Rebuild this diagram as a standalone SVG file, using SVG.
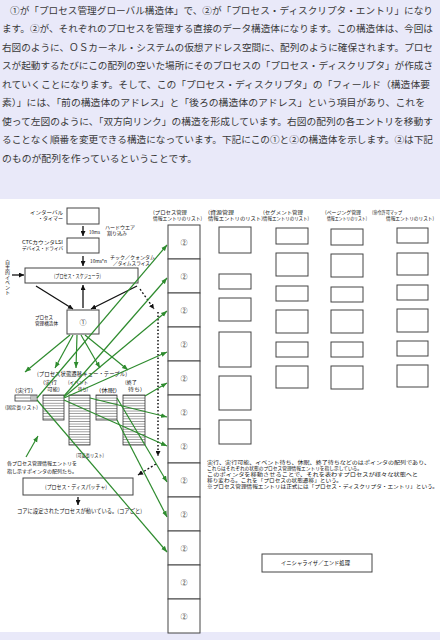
<svg xmlns="http://www.w3.org/2000/svg" width="440" height="640" viewBox="0 0 440 640">
<style>
.p{font-family:"Noto Sans CJK JP","Noto Sans",sans-serif;font-size:9.6px;fill:#383838}
.s{font-family:"Noto Sans CJK JP","Noto Sans",sans-serif;font-size:5.5px;fill:#111}
.t{font-family:"Noto Sans CJK JP","Noto Sans",sans-serif;font-size:5px;fill:#111}
.v{font-family:"Noto Sans CJK JP","Noto Sans",sans-serif;font-size:5px;fill:#111;writing-mode:vertical-rl;text-orientation:upright}
.c{font-family:"Noto Sans CJK JP","Noto Sans",sans-serif;font-size:7px;fill:#222;text-anchor:middle}
.b{fill:#fff;stroke:#444;stroke-width:1}
.q{fill:url(#stripe);stroke:#333;stroke-width:0.8}
.g{stroke:#2e8b2e;stroke-width:1.2;fill:none;marker-end:url(#ag)}
.k{stroke:#111;stroke-width:1.3;fill:none;marker-end:url(#ak)}
.d{stroke:#111;stroke-width:1.3;fill:none;stroke-dasharray:2 2;marker-end:url(#ak)}
</style>
<defs>
<marker id="ag" viewBox="0 0 10 10" refX="10" refY="5" markerWidth="6" markerHeight="6" markerUnits="userSpaceOnUse" orient="auto"><path d="M0,1 L10,5 L0,9 z" fill="#2e8b2e"/></marker>
<marker id="ak" viewBox="0 0 10 10" refX="10" refY="5" markerWidth="5" markerHeight="5" markerUnits="userSpaceOnUse" orient="auto"><path d="M0,0 L10,5 L0,10 z" fill="#111"/></marker>
<pattern id="stripe" patternUnits="userSpaceOnUse" x="0" y="395" width="4" height="2.6"><rect width="4" height="2.6" fill="#fff"/><line x1="0" y1="0.3" x2="4" y2="0.3" stroke="#333" stroke-width="0.6"/></pattern>
</defs>
<rect x="0" y="0" width="440" height="640" fill="#e9e9f9"/>
<rect x="0" y="199" width="440" height="433" fill="#fff"/>

<g id="intro">
<text class="p" x="10" y="13.5" textLength="423" lengthAdjust="spacingAndGlyphs">①が「プロセス管理グローバル構造体」で、②が「プロセス・ディスクリプタ・エントリ」になり</text>
<text class="p" x="2" y="32" textLength="431" lengthAdjust="spacingAndGlyphs">ます。②が、それぞれのプロセスを管理する直接のデータ構造体になります。この構造体は、今回は</text>
<text class="p" x="2" y="50.5" textLength="431" lengthAdjust="spacingAndGlyphs">右図のように、ＯＳカーネル・システムの仮想アドレス空間に、配列のように確保されます。プロセ</text>
<text class="p" x="2" y="69" textLength="431" lengthAdjust="spacingAndGlyphs">スが起動するたびにこの配列の空いた場所にそのプロセスの「プロセス・ディスクリプタ」が作成さ</text>
<text class="p" x="2" y="87.5" textLength="428" lengthAdjust="spacingAndGlyphs">れていくことになります。そして、この「プロセス・ディスクリプタ」の「フィールド（構造体要</text>
<text class="p" x="2" y="106" textLength="423" lengthAdjust="spacingAndGlyphs">素）」には、「前の構造体のアドレス」と「後ろの構造体のアドレス」という項目があり、これを</text>
<text class="p" x="2" y="124.5" textLength="431" lengthAdjust="spacingAndGlyphs">使って左図のように、「双方向リンク」の構造を形成しています。右図の配列の各エントリを移動す</text>
<text class="p" x="2" y="143" textLength="431" lengthAdjust="spacingAndGlyphs">ることなく順番を変更できる構造になっています。下記にこの①と②の構造体を示します。②は下記</text>
<text class="p" x="2" y="161.5" textLength="195" lengthAdjust="spacingAndGlyphs">のものが配列を作っているということです。</text>
</g>

<g id="timer">
<rect class="b" x="67" y="208" width="32" height="16"/>
<text class="t" x="30" y="213.5" textLength="33" lengthAdjust="spacingAndGlyphs">インターバル</text>
<text class="t" x="38" y="220" textLength="25" lengthAdjust="spacingAndGlyphs">・タイマー</text>
<text class="t" x="89" y="234" textLength="11" lengthAdjust="spacingAndGlyphs">10ms</text>
<text class="t" x="105" y="228.5" textLength="30" lengthAdjust="spacingAndGlyphs">ハードウエア</text>
<text class="t" x="107" y="235" textLength="20" lengthAdjust="spacingAndGlyphs">割り込み</text>
</g>
<g id="ctc">
<rect class="b" x="67" y="238" width="32" height="15"/>
<text class="t" x="22" y="243.5" textLength="41" lengthAdjust="spacingAndGlyphs">CTCカウンタLSI</text>
<text class="t" x="22" y="250" textLength="41" lengthAdjust="spacingAndGlyphs">デバイス・ドライバ</text>
<text class="t" x="90" y="263" textLength="17" lengthAdjust="spacingAndGlyphs">10ms*n</text>
<text class="t" x="110" y="258.5" textLength="45" lengthAdjust="spacingAndGlyphs">チック／クォンタム</text>
<text class="t" x="113" y="265" textLength="37" lengthAdjust="spacingAndGlyphs">／タイムスライス</text>
</g>
<g id="event">
<text class="v" x="7.5" y="260">自主的イベント</text>
</g>
<g id="scheduler">
<rect class="b" x="25" y="268" width="113" height="15"/>
<text class="s" x="54" y="278" textLength="47" lengthAdjust="spacingAndGlyphs">(プロセス・スケジューラ)</text>
</g>
<g id="pm">
<rect class="b" x="67" y="310" width="32" height="24"/>
<text class="c" x="83" y="324.5">①</text>
<text class="t" x="35" y="318.5" textLength="18" lengthAdjust="spacingAndGlyphs">プロセス</text>
<text class="t" x="35" y="325" textLength="23" lengthAdjust="spacingAndGlyphs">管理構造体</text>
</g>
<g id="queues">
<text class="s" x="37" y="376" textLength="90" lengthAdjust="spacingAndGlyphs">(プロセス状態遷移キュー・テーブル)</text>
<text class="t" x="15" y="392" textLength="18" lengthAdjust="spacingAndGlyphs">(実行)</text>
<rect x="15" y="395" width="22" height="6" fill="#fff" stroke="#333" stroke-width="0.8"/>
<line x1="15" y1="398" x2="31" y2="398" stroke="#333" stroke-width="0.5"/>
<path d="M31,395V401M33,395V401M35,395V401" stroke="#333" stroke-width="0.6"/>
<text class="t" x="5" y="408.5" textLength="33" lengthAdjust="spacingAndGlyphs">(固定長リスト)</text>
<text class="t" x="43" y="384" textLength="14" lengthAdjust="spacingAndGlyphs">(実行</text>
<text class="t" x="47" y="390.5" textLength="13" lengthAdjust="spacingAndGlyphs">可能)</text>
<rect class="q" x="43" y="395" width="21" height="25"/>
<text class="t" x="68" y="384" textLength="20" lengthAdjust="spacingAndGlyphs">(イベント</text>
<text class="t" x="78" y="390.5" textLength="10" lengthAdjust="spacingAndGlyphs">待ち)</text>
<rect class="q" x="69" y="395" width="21" height="50"/>
<text class="t" x="99" y="392" textLength="18" lengthAdjust="spacingAndGlyphs">(休眠)</text>
<rect class="q" x="96" y="395" width="21" height="25"/>
<text class="t" x="125" y="384" textLength="12" lengthAdjust="spacingAndGlyphs">(終了</text>
<text class="t" x="128" y="390.5" textLength="14" lengthAdjust="spacingAndGlyphs">待ち)</text>
<rect class="q" x="123" y="395" width="22" height="50"/>
<text class="t" x="76" y="457" textLength="28" lengthAdjust="spacingAndGlyphs">(可変長リスト)</text>
<text class="t" x="7" y="465" textLength="70" lengthAdjust="spacingAndGlyphs">各プロセス管理情報エントリを</text>
<text class="t" x="7" y="473" textLength="70" lengthAdjust="spacingAndGlyphs">指し示すポインタの配列たち。</text>
</g>
<g id="dispatcher">
<rect class="b" x="23" y="478" width="110" height="17"/>
<text class="s" x="45" y="488.5" textLength="62" lengthAdjust="spacingAndGlyphs">(プロセス・ディスパッチャ)</text>
<text class="s" x="17" y="513" textLength="125" lengthAdjust="spacingAndGlyphs">コアに設定されたプロセスが動いている。(コアごと)</text>
</g>

<g id="pd-list">
<text class="t" x="153" y="213.5" textLength="34" lengthAdjust="spacingAndGlyphs">(プロセス管理</text>
<text class="t" x="153" y="220" textLength="49" lengthAdjust="spacingAndGlyphs">情報エントリのリスト)</text>
<rect class="b" x="168" y="225" width="32" height="34"/><text class="c" x="184" y="244.5">②</text>
<rect class="b" x="168" y="259" width="32" height="34"/><text class="c" x="184" y="278.5">②</text>
<rect class="b" x="168" y="293" width="32" height="34"/><text class="c" x="184" y="312.5">②</text>
<rect class="b" x="168" y="327" width="32" height="34"/><text class="c" x="184" y="346.5">②</text>
<rect class="b" x="168" y="361" width="32" height="34"/><text class="c" x="184" y="380.5">②</text>
<rect class="b" x="168" y="395" width="32" height="34"/><text class="c" x="184" y="414.5">②</text>
<rect class="b" x="168" y="429" width="32" height="34"/><text class="c" x="184" y="448.5">②</text>
<rect class="b" x="168" y="463" width="32" height="34"/><text class="c" x="184" y="482.5">②</text>
<rect class="b" x="168" y="497" width="32" height="34"/><text class="c" x="184" y="516.5">②</text>
<rect class="b" x="168" y="531" width="32" height="34"/><text class="c" x="184" y="550.5">②</text>
<rect class="b" x="168" y="565" width="32" height="34"/><text class="c" x="184" y="584.5">②</text>
<rect class="b" x="168" y="599" width="32" height="34"/><text class="c" x="184" y="618.5">②</text>
</g>
<g id="resource-list">
<text class="t" x="208" y="213.5" textLength="26" lengthAdjust="spacingAndGlyphs">(資源管理</text>
<text class="t" x="208" y="220" textLength="55" lengthAdjust="spacingAndGlyphs">情報エントリのリスト)</text>
<rect class="b" x="219" y="227" width="32" height="26"/>
<rect class="b" x="219" y="274" width="32" height="15"/>
<rect class="b" x="219" y="298" width="32" height="23"/>
<rect class="b" x="219" y="332" width="32" height="35"/>
<rect class="b" x="219" y="376" width="32" height="34"/>
<rect class="b" x="219" y="420" width="32" height="24"/>
</g>
<g id="segment-list">
<text class="t" x="263" y="213.5" textLength="40" lengthAdjust="spacingAndGlyphs">(セグメント管理</text>
<text class="t" x="263" y="220" textLength="46" lengthAdjust="spacingAndGlyphs">情報エントリのリスト)</text>
<rect class="b" x="276" y="228" width="32" height="16"/>
<rect class="b" x="276" y="253" width="32" height="23"/>
<rect class="b" x="276" y="286" width="32" height="15"/>
<rect class="b" x="276" y="310" width="32" height="23"/>
<rect class="b" x="276" y="342" width="32" height="15"/>
<rect class="b" x="276" y="366" width="32" height="22"/>
</g>
<g id="paging-list">
<text class="t" x="325" y="213.5" textLength="36" lengthAdjust="spacingAndGlyphs">(ページング管理</text>
<text class="t" x="327" y="220" textLength="40" lengthAdjust="spacingAndGlyphs">情報エントリのリスト)</text>
<rect class="b" x="331" y="229" width="32" height="16"/>
<rect class="b" x="331" y="254" width="32" height="23"/>
<rect class="b" x="331" y="287" width="32" height="15"/>
<rect class="b" x="331" y="310" width="32" height="23"/>
<rect class="b" x="331" y="342" width="32" height="15"/>
<rect class="b" x="331" y="366" width="32" height="23"/>
</g>
<g id="permit-list">
<text class="t" x="372" y="213.5" textLength="30" lengthAdjust="spacingAndGlyphs">(命令許可マップ</text>
<text class="t" x="386" y="220" textLength="48" lengthAdjust="spacingAndGlyphs">情報エントリのリスト)</text>
<rect class="b" x="397" y="228" width="31" height="15"/>
<rect class="b" x="397" y="253" width="31" height="22"/>
<rect class="b" x="397" y="285" width="31" height="15"/>
<rect class="b" x="397" y="309" width="31" height="23"/>
<rect class="b" x="397" y="341" width="31" height="15"/>
<rect class="b" x="397" y="365" width="31" height="22"/>
</g>
<g id="note">
<text class="t" x="207" y="463.5" textLength="223" lengthAdjust="spacingAndGlyphs">実行、実行可能、イベント待ち、休眠、終了待ちなどのはポインタの配列であり、</text>
<text class="t" x="207" y="469.5" textLength="155" lengthAdjust="spacingAndGlyphs">これらはそれぞれの状態のプロセス管理情報エントリを指し示している。</text>
<text class="t" x="207" y="475.5" textLength="211" lengthAdjust="spacingAndGlyphs">このポインタを移動させることで、それを表わすプロセスが様々な状態へと</text>
<text class="t" x="207" y="481.5" textLength="135" lengthAdjust="spacingAndGlyphs">移り変わる。これを「プロセスの状態遷移」という。</text>
<text class="t" x="207" y="487.5" textLength="231" lengthAdjust="spacingAndGlyphs">※プロセス管理情報エントリは正式には「プロセス・ディスクリプタ・エントリ」という。</text>
</g>
<g id="initializer">
<rect class="b" x="262" y="554" width="110" height="18"/>
<text class="s" x="281" y="565" textLength="69" lengthAdjust="spacingAndGlyphs">イニシャライザ／エンド処理</text>
</g>

<g id="connectors">
<line class="k" x1="83" y1="226" x2="83" y2="236"/>
<line class="k" x1="83" y1="256" x2="83" y2="266"/>
<line class="k" x1="12" y1="275" x2="24" y2="275"/>
<line class="k" x1="36" y1="286" x2="73" y2="309"/>
<line class="k" x1="137" y1="286" x2="91" y2="309"/>
<line class="k" x1="83" y1="308" x2="83" y2="285"/>
<line class="k" x1="78" y1="497" x2="78" y2="505"/>
<line class="d" x1="140" y1="289" x2="154" y2="309"/>
<line stroke="#111" stroke-width="1.5" stroke-dasharray="1.5 2" x1="158" y1="312" x2="158" y2="456" marker-end="url(#ak)"/>
<line class="d" x1="156" y1="464" x2="138" y2="475"/>
<line class="g" x1="70" y1="335" x2="25" y2="372"/>
<line class="g" x1="73" y1="335" x2="55" y2="368"/>
<line class="g" x1="77" y1="335" x2="76" y2="368"/>
<line class="g" x1="81" y1="335" x2="100" y2="368"/>
<line class="g" x1="85" y1="335" x2="128" y2="370"/>
<line class="g" x1="26" y1="457" x2="38" y2="436"/>
<line class="g" x1="37" y1="398" x2="167" y2="245"/>
<line class="g" x1="64" y1="396" x2="167" y2="278"/>
<line class="g" x1="64" y1="397" x2="167" y2="311"/>
<line class="g" x1="64" y1="398" x2="167" y2="352"/>
<line class="g" x1="145" y1="396" x2="167" y2="383"/>
<line class="g" x1="90" y1="398" x2="167" y2="417"/>
<line class="g" x1="64" y1="400" x2="167" y2="446"/>
<line class="g" x1="117" y1="398" x2="167" y2="482"/>
<line class="g" x1="117" y1="420" x2="167" y2="517"/>
<line class="g" x1="37" y1="400" x2="167" y2="552"/>
</g>
</svg>
